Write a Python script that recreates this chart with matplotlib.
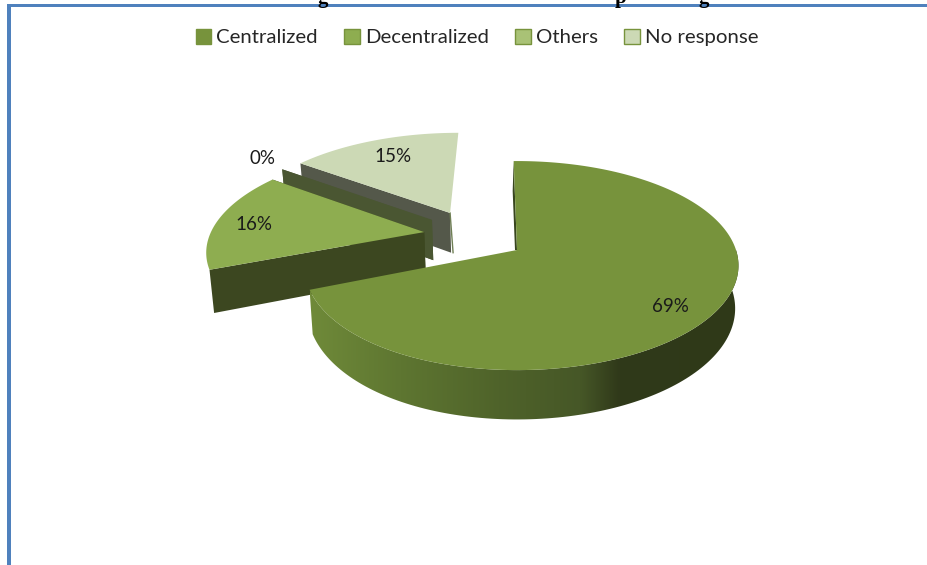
import matplotlib
matplotlib.use('Agg')
import matplotlib.pyplot as plt
from matplotlib.patches import Patch, Polygon, Rectangle
from matplotlib.colors import LinearSegmentedColormap
import numpy as np

categories = ['Centralized', 'Decentralized', 'Others', 'No response']
shares = [69, 16, 0, 15]
labels = ['69%', '16%', '0%', '15%']

face_colors = ['#77933C', '#8EAD50', '#A9C276', '#CCD9B5']
wall_colors = ['#4A5C28', '#3C4720', '#4A5632', '#54584A']
# slice offset on the disc (explosion), disc radius = 1
offsets = {0: (0.0, 0.0), 1: (-0.435, 0.18), 2: (-0.406, 0.307), 3: (-0.323, 0.383)}
label_pos = [(670, 306), (254, 225), (263, 159), (393, 156)]

# fake 3d projection of the disc, pixel space
CX, CY = 517, 250
RX, RY, K = 219, 102.2, 0.149
DEPTH = 42
BOTTOM_X = 0.985
START_ANGLE = 90

plt.rcParams['font.family'] = ['Lato', 'DejaVu Sans']


def project(u, v, bottom=False):
    d = 1 + K * v
    x = RX * u / d
    y = CY - RY * v / d
    if bottom:
        return CX + x * BOTTOM_X, y + DEPTH / d
    return CX + x, y


def rim(a0, a1, off, n=200):
    t = np.radians(np.linspace(a0, a1, n))
    u = np.cos(t)
    # main slice looks a bit pinched on its left side in the reference
    if off == (0.0, 0.0):
        u = np.where(u < 0, u * (1 + 0.04 * u), u)
    return u + off[0], np.sin(t) + off[1]


fig = plt.figure(figsize=(9.28, 5.65), dpi=100)
ax = fig.add_axes([0, 0, 1, 1])

# clipped bits of the title sitting above the frame
for gx, ch in [(323, 'g'), (621, 'p'), (704, 'g')]:
    ax.text(gx, -2, ch, family='Liberation Serif', weight='bold', fontsize=15,
            ha='center', va='center', color='black', clip_on=True)

# page frame
ax.add_patch(Rectangle((7, 4), 925, 3.4, fc='#4F81BD', ec='none', zorder=1))
ax.add_patch(Rectangle((7, 4), 4, 565, fc='#4F81BD', ec='none', zorder=1))

# slice angles, clockwise from 12 o'clock
ends = START_ANGLE - np.cumsum(shares) * 3.6
starts = np.concatenate([[START_ANGLE], ends[:-1]])
wall_cmap = LinearSegmentedColormap.from_list(
    'wall', [(0, '#6F8A39'), (0.21, '#5E7631'), (0.44, '#4F632A'), (0.63, '#465727'),
             (0.72, '#30391A'), (1, '#2F3A18')])

z = 3
for i in [3, 2, 1, 0]:
    off = offsets[i]
    a0, a1 = starts[i], ends[i]
    if i == 0:
        a0 += 1  # top edge of the main slice leans slightly left
    u, v = rim(a0, a1, off)
    apex = project(off[0], off[1])
    apex_low = project(off[0], off[1], True)

    # radial walls going in to the apex
    if i == 0:
        # thin wall at 12 o'clock, the slice edge is seen almost end on
        top = project(u[0], v[0])
        ax.add_patch(Polygon([top, apex, (apex[0] - 2, apex[1]), (top[0] - 1, top[1] + 30)],
                             fc='#38461E', ec='none', zorder=z))
    else:
        for j in (0, -1):
            if i == 3 and j == -1:
                # right hand edge of the far slice is only a sliver
                ax.plot([apex[0], apex_low[0] + 2], [apex[1], apex_low[1]],
                        color='#6F7F55', lw=1, zorder=z)
                continue
            wall = [project(u[j], v[j]), apex, apex_low, project(u[j], v[j], True)]
            ax.add_patch(Polygon(wall, fc=wall_colors[i], ec='none', zorder=z))
    z += 1

    # outer rim of the main slice, front part only, with its gradient
    if i == 0:
        keep = v < 0.08
        xs0, ys0 = project(u[keep], v[keep])
        xs1, ys1 = project(u[keep], v[keep], True)
        outline = list(zip(xs0, ys0)) + list(zip(xs1[::-1], ys1[::-1]))
        clip = Polygon(outline, fc='none', ec='none', transform=ax.transData)
        ax.add_patch(clip)
        grad = np.linspace(0, 1, 256).reshape(1, -1)
        im = ax.imshow(grad, cmap=wall_cmap, extent=(310, 740, 440, 250), aspect='auto',
                       zorder=z, interpolation='bilinear')
        im.set_clip_path(clip)
    z += 1

    # top face
    xt, yt = project(u, v)
    ax.add_patch(Polygon(list(zip(xt, yt)) + [apex], fc=face_colors[i], ec='none', zorder=z))
    z += 1

ax.set_xlim(0, 928)
ax.set_ylim(565, 0)
ax.axis('off')

for (lx, ly), txt in zip(label_pos, labels):
    ax.text(lx, ly, txt, ha='center', va='center', fontsize=13.5, color='#1a1a1a', zorder=50)

handles = [Patch(fc=face_colors[i], ec='#77933C', lw=1) for i in range(len(categories))]
ax.legend(handles, categories, loc='center', bbox_to_anchor=(477 / 928, 1 - 37.5 / 565),
          ncol=4, frameon=False, fontsize=14.7, handlelength=0.75, handleheight=0.75,
          handletextpad=0.25, columnspacing=1.3, labelcolor='#262626')

fig.savefig('out.png', dpi=100)
